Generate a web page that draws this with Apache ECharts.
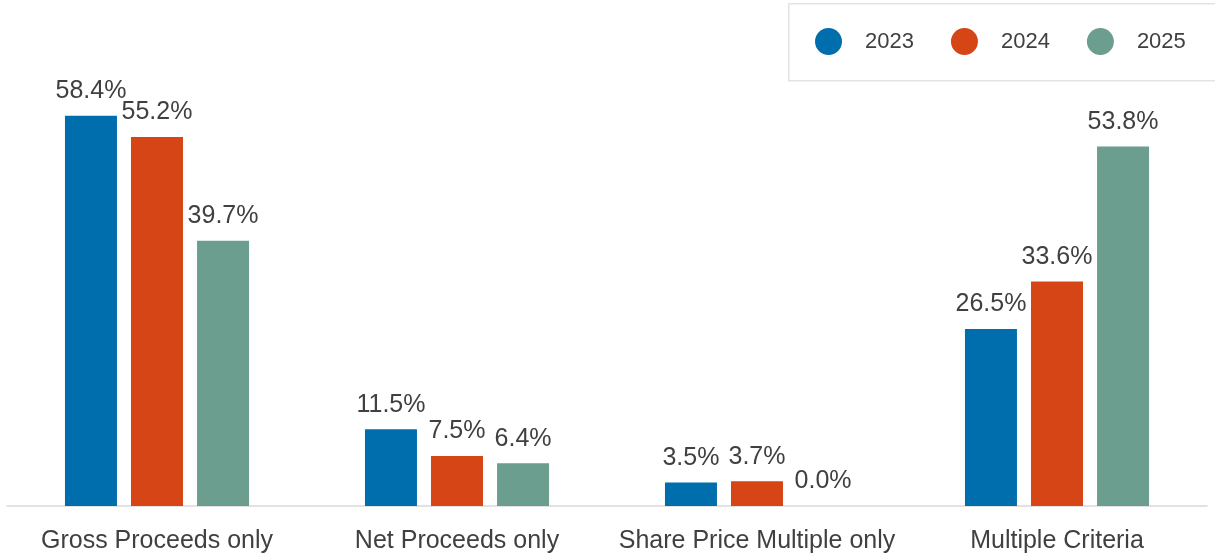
<!DOCTYPE html>
<html>
<head>
<meta charset="utf-8">
<script src="https://cdn.jsdelivr.net/npm/echarts@6/dist/echarts.min.js"></script>
<style>
  html, body { margin: 0; padding: 0; background: #fff; }
  #chart { width: 1215px; height: 554px; }
</style>
</head>
<body>
<div id="chart"></div>
<script>
// Share of deals by performance-vesting criterion, per year
const categories = ['Gross Proceeds only', 'Net Proceeds only', 'Share Price Multiple only', 'Multiple Criteria'];
const years = ['2023', '2024', '2025'];
const values2023 = [58.4, 11.5, 3.5, 26.5];
const values2024 = [55.2, 7.5, 3.7, 33.6];
const values2025 = [39.7, 6.4, 0.0, 53.8];
const seriesValues = [values2023, values2024, values2025];
const colors = ['#006EAD', '#D54516', '#6B9E8E'];

const FONT = '"Liberation Sans", Arial, sans-serif';
const TEXT = '#404040';

const chart = echarts.init(document.getElementById('chart'), null, { renderer: 'canvas' });

chart.setOption({
  animation: false,
  textStyle: { fontFamily: FONT },
  // legend frame, running off the right edge
  graphic: [{
    type: 'rect',
    left: 788,
    top: 3,
    shape: { width: 520, height: 77 },
    style: { fill: '#fff', stroke: '#E3E3E3', lineWidth: 1.5 },
    z: 0
  }],
  legend: {
    data: years,
    left: 815,
    top: 28,
    padding: 0,
    icon: 'circle',
    itemWidth: 27,
    itemHeight: 27,
    itemGap: 37,
    z: 10,
    textStyle: { color: TEXT, fontSize: 22, fontFamily: FONT, padding: [0, 0, 0, 18] }
  },
  grid: { left: 7, right: 8, top: 105, bottom: 48, containLabel: false },
  xAxis: {
    type: 'category',
    data: categories,
    axisTick: { show: false },
    axisLine: { lineStyle: { color: '#D9D9D9', width: 1.5 } },
    axisLabel: { color: TEXT, fontSize: 25, margin: 23, interval: 0, fontFamily: FONT }
  },
  yAxis: {
    type: 'value',
    min: 0,
    max: 60,
    show: false,
    splitLine: { show: false }
  },
  series: years.map((y, i) => ({
    name: y,
    type: 'bar',
    data: seriesValues[i],
    barWidth: 52,
    barGap: '27%',
    itemStyle: { color: colors[i] },
    label: {
      show: true,
      position: 'top',
      distance: 12,
      color: TEXT,
      fontSize: 25,
      fontFamily: FONT,
      formatter: p => p.value.toFixed(1) + '%'
    }
  }))
});
</script>
</body>
</html>
